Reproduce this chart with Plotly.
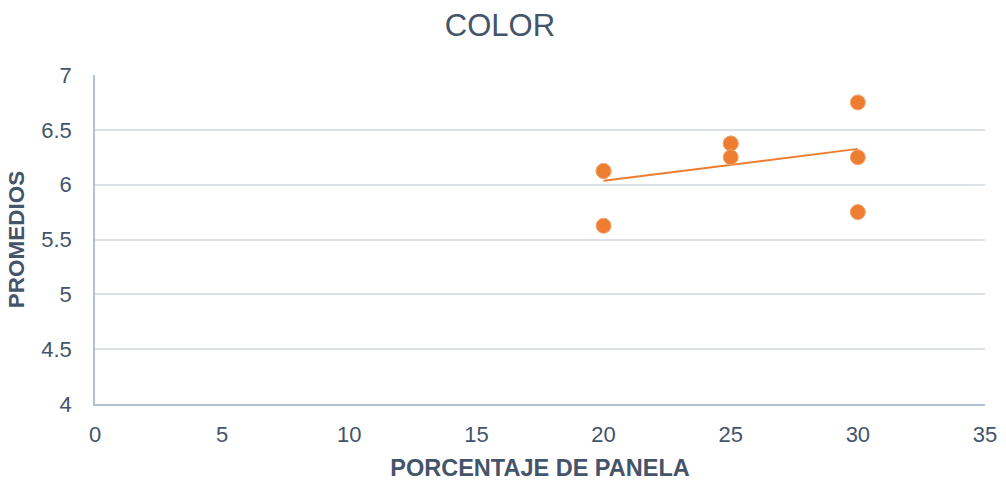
import numpy as np
import plotly.graph_objects as go

# Panela percentage per sample and its average colour score
panela_pct = [20, 20, 20, 25, 25, 25, 30, 30, 30]
color_avg = [6.125, 6.125, 5.625, 6.375, 6.375, 6.25, 6.75, 6.25, 5.75]

x_ticks = [0, 5, 10, 15, 20, 25, 30, 35]
y_ticks = [4, 4.5, 5, 5.5, 6, 6.5, 7]

ORANGE = "#ED7D31"
TEXT = "#44546A"

# Linear trend line fitted over the samples
slope, intercept = np.polyfit(panela_pct, color_avg, 1)
trend_x = [min(panela_pct), max(panela_pct)]
trend_y = [slope * v + intercept for v in trend_x]

fig = go.Figure()
fig.add_trace(go.Scatter(
    x=trend_x, y=trend_y, mode="lines",
    line=dict(color=ORANGE, width=2),
    hoverinfo="skip", showlegend=False,
))
fig.add_trace(go.Scatter(
    x=panela_pct, y=color_avg, mode="markers",
    marker=dict(color=ORANGE, size=15, line=dict(color="#F4A772", width=1)),
    showlegend=False,
))

fig.update_layout(
    width=1006, height=482,
    margin=dict(l=95, r=21, t=75, b=78, autoexpand=False),
    paper_bgcolor="white", plot_bgcolor="white",
    font=dict(family="Liberation Sans, Arial, sans-serif", color=TEXT),
    title=dict(text="COLOR", x=0.497, xanchor="center", y=0.948, yanchor="middle",
               font=dict(size=31, color=TEXT)),
)
fig.update_xaxes(
    range=[0, 35], tickvals=x_ticks, ticktext=[str(v) for v in x_ticks],
    showgrid=False, zeroline=False, automargin=False,
    showline=True, linecolor="#B4BFD1", linewidth=1.5,
    ticks="", tickfont=dict(size=22, color=TEXT), ticklabelstandoff=10,
    title=dict(text="<b>PORCENTAJE DE PANELA</b>", font=dict(size=23.5, color=TEXT), standoff=13),
)
fig.update_yaxes(
    range=[4, 7], tickvals=y_ticks, ticktext=[f"{v:g}" for v in y_ticks],
    showgrid=True, gridcolor="#DCE1E8", gridwidth=1.5, zeroline=False, automargin=False,
    showline=True, linecolor="#B4BFD1", linewidth=1.5,
    ticks="", tickfont=dict(size=22, color=TEXT), ticklabelstandoff=17,
    title=dict(text="<b>PROMEDIOS</b>", font=dict(size=22.5, color=TEXT), standoff=10),
)

fig.write_html("out.html")
